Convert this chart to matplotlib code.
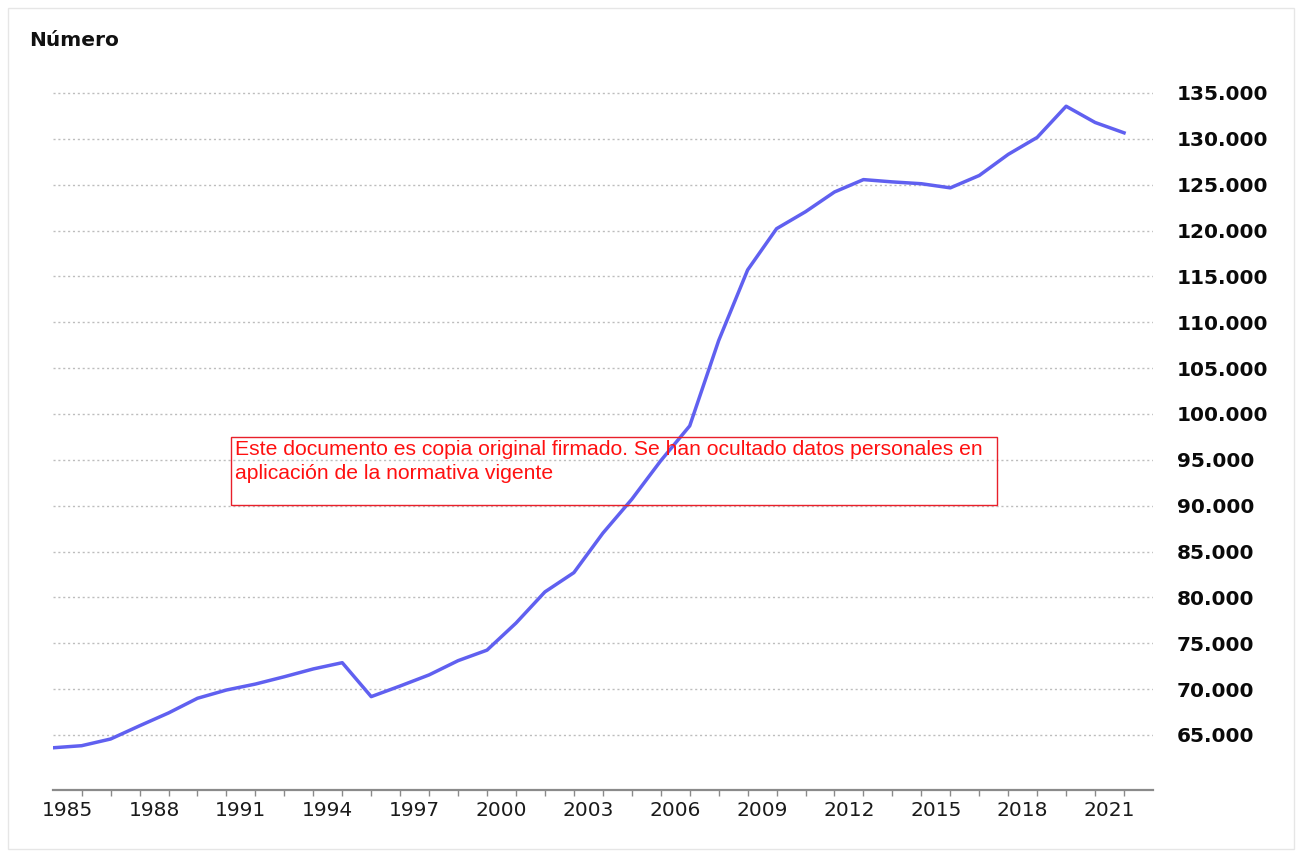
import matplotlib
matplotlib.use("Agg")
import matplotlib.pyplot as plt
from matplotlib.ticker import FuncFormatter, FixedLocator
from matplotlib.patches import Rectangle

years = list(range(1985, 2023))
values = [63600, 63830, 64560, 66000, 67400, 69000, 69900, 70550, 71350, 72200,
          72880, 69180, 70340, 71550, 73100, 74250, 77200, 80600, 82700, 87000,
          90700, 94900, 98700, 108000, 115700, 120200, 122050, 124200, 125550, 125300,
          125100, 124650, 126000, 128300, 130150, 133550, 131780, 130650]
label_years = list(range(1985, 2022, 3))
y_ticks = list(range(65000, 135001, 5000))
title = "Número"
note = ("Este documento es copia original firmado. Se han ocultado datos personales en\n"
        "aplicación de la normativa vigente")

W, H = 1300, 855
fig = plt.figure(figsize=(W / 100, H / 100), dpi=100)
fig.patch.set_facecolor("white")

ax = fig.add_axes([52.7 / W, (H - 790) / H, (1153 - 52.7) / W, (790 - 70) / H])
ax.set_facecolor("white")
ax.plot(years, values, color="#6060f0", lw=2.5, solid_joinstyle="round", zorder=3)

ax.set_xlim(1985, 2023)
ax.set_ylim(59000, 137500)

for s in ["top", "left", "right"]:
    ax.spines[s].set_visible(False)
ax.spines["bottom"].set_color("#8a8a8a")
ax.spines["bottom"].set_linewidth(1.6)

# y axis on right
ax.yaxis.tick_right()
ax.set_yticks(y_ticks)
ax.yaxis.set_major_formatter(FuncFormatter(lambda v, p: f"{int(v):,}".replace(",", ".")))
ax.tick_params(axis="y", length=0, pad=17, labelsize=14.5, labelcolor="#0a0a0a")
for t in ax.get_yticklabels():
    t.set_fontweight("bold")
ax.grid(axis="y", color="#bdbdbd", lw=1.0, linestyle=(0, (1.5, 2)))
ax.set_axisbelow(True)

# x ticks: marks at each year boundary, labels centered in the year
ax.xaxis.set_major_locator(FixedLocator(years[1:]))
ax.xaxis.set_major_formatter(FuncFormatter(lambda v, p: ""))
ax.tick_params(axis="x", which="major", length=4, width=1, color="#8a8a8a")
ax.xaxis.set_minor_locator(FixedLocator([y + 0.5 for y in label_years]))
ax.xaxis.set_minor_formatter(FuncFormatter(lambda v, p: str(int(v))))
ax.tick_params(axis="x", which="minor", length=0, pad=8, labelsize=14.5, labelcolor="#1a1a1a")

fig.text(29 / W, 1 - 40 / H, title, fontsize=14.5, fontweight="bold", va="center", ha="left",
         color="#111111")

# watermark note box (figure pixel coordinates)
fig.patches.append(Rectangle((231 / W, 1 - 505 / H), (997 - 231) / W, (505 - 437) / H,
                             transform=fig.transFigure, fill=False, edgecolor="#e8202a",
                             lw=1.0, zorder=5))
fig.text(235 / W, 1 - 440 / H, note, fontsize=15.2, color="#ff1010", family="Liberation Sans",
         va="top", ha="left", linespacing=1.3, zorder=6)

# faint outer frame
fig.patches.append(Rectangle((8 / W, 6 / H), (W - 14) / W, (H - 14) / H,
                             transform=fig.transFigure, fill=False, edgecolor="#e6e6e6", lw=1.0))

fig.savefig("out.png", dpi=100, facecolor="white")
